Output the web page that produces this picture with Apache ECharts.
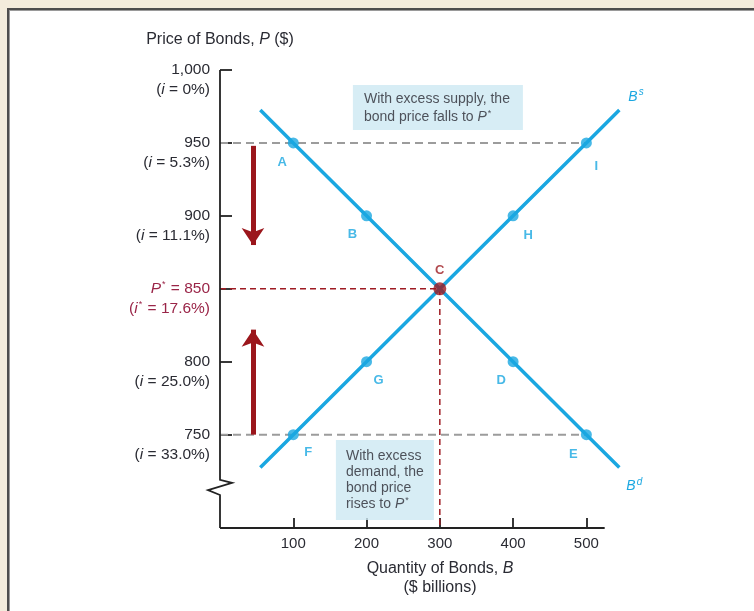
<!DOCTYPE html>
<html>
<head>
<meta charset="utf-8">
<script src="https://cdn.jsdelivr.net/npm/echarts@6/dist/echarts.min.js"></script>
<style>
  html, body { margin:0; padding:0; width:754px; height:611px; background:#f3ecdc; overflow:hidden; }
  #frame { position:absolute; left:7px; top:8px; width:760px; height:620px; background:#ffffff;
           border-left:2px solid #4d4d4d; border-top:2px solid #4d4d4d; box-shadow: inset 1px 1px 0 #9a9a9a; }
  #chart { position:absolute; left:0; top:0; width:754px; height:611px; }
</style>
</head>
<body>
<div id="frame"></div>
<div id="chart"></div>
<script>
// ---------- data ----------
const quantities    = [100, 200, 300, 400, 500];
const demandPrices  = [950, 900, 850, 800, 750];
const supplyPrices  = [750, 800, 850, 900, 950];
const demandNames   = ['A', 'B', 'C', 'D', 'E'];
const supplyNames   = ['F', 'G', 'C', 'H', 'I'];
const demandCurve   = [[55, 972.5], [100, 950], [200, 900], [300, 850], [400, 800], [500, 750], [545, 727.5]];
const supplyCurve   = [[55, 727.5], [100, 750], [200, 800], [300, 850], [400, 900], [500, 950], [545, 972.5]];
const equilibrium   = [300, 850];
const yTicks        = [750, 800, 850, 900, 950, 1000];
const yTickLabels   = ['750', '800', '850', '900', '950', '1,000'];
const yTickRates    = ['33.0%', '25.0%', '17.6%', '11.1%', '5.3%', '0%'];
const xTicks        = [100, 200, 300, 400, 500];
const excessSupplyLine = [[0, 950], [500, 950]];
const excessDemandLine = [[0, 750], [500, 750]];
const equilibriumGuide = [[0, 850], [300, 850], [300, 686]];
const arrowDown     = [[45, 948], [45, 880]];
const arrowUp       = [[45, 750], [45, 822]];
const yAxisPath     = [[0, 1000], [0, 719], [16.4, 717], [-16.4, 712], [0, 708.6], [0, 686]];
const xAxisPath     = [[0, 686], [525, 686]];
const boxSupplyAnchor = [181.4, 989.7];
const boxDemandAnchor = [158.2, 746.4];

// ---------- styles ----------
const BLUE = '#1aa7e1';
const RED = '#9e1b22';
const TXT = '#2a2b33';
const PRED = '#9a2548';
const FONT = "'Liberation Sans', Arial, sans-serif";
const YF = 15.5, YLH = 20;

const demandOffsets = [[-11, 19], [-14, 19], [0, -17], [-12, 19], [-13, 20]];
const supplyOffsets = [[15, 18], [12, 19], [0, -17], [15, 20], [10, 23]];

function pointData(prices, names, offsets) {
  return quantities.map((q, i) => ({
    value: [q, prices[i]],
    name: names[i],
    label: { offset: offsets[i] }
  })).filter((d, i) => quantities[i] !== equilibrium[0]);
}

const richY = {
  s:  { fontSize: YF, lineHeight: YLH, fontFamily: FONT },
  n:  { fontSize: YF, lineHeight: YLH, color: TXT, fontFamily: FONT },
  ni: { fontSize: YF, lineHeight: YLH, color: TXT, fontStyle: 'italic', fontFamily: FONT },
  r:  { fontSize: YF, lineHeight: YLH, color: PRED, fontFamily: FONT },
  ri: { fontSize: YF, lineHeight: YLH, color: PRED, fontStyle: 'italic', fontFamily: FONT },
  rs: { fontSize: 9, lineHeight: YLH, color: PRED, fontFamily: FONT, padding: [0, 1, 9, 1] }
};

const chart = echarts.init(document.getElementById('chart'), null, { renderer: 'canvas' });

const option = {
  animation: false,
  grid: { left: 220, right: 131, top: 70, bottom: 83 },
  xAxis: {
    type: 'value', min: 0, max: 550,
    axisLine: { show: false },
    axisTick: { show: true, inside: true, length: 10, customValues: xTicks, lineStyle: { color: '#222', width: 1.8 } },
    axisLabel: {
      customValues: xTicks, margin: 8, fontSize: 15, fontFamily: FONT,
      color: (v) => (v === equilibrium[0] ? '#b0303a' : TXT)
    },
    splitLine: { show: false },
    name: 'Quantity of Bonds, {i|B}\n($ billions)',
    nameLocation: 'middle', nameGap: 31, nameMoveOverlap: false,
    nameTextStyle: {
      color: TXT, fontSize: 16, fontFamily: FONT, lineHeight: 19, padding: [0, 0, 0, 37],
      rich: { i: { fontStyle: 'italic', fontSize: 16, color: TXT, fontFamily: FONT, lineHeight: 19 } }
    }
  },
  yAxis: {
    type: 'value', min: 686, max: 1000,
    axisLine: { show: false },
    axisTick: { show: true, inside: true, length: 12, customValues: yTicks, lineStyle: { color: '#222', width: 1.8 } },
    axisLabel: {
      customValues: yTicks, margin: 10, align: 'right',
      formatter: (v) => {
        const i = yTicks.indexOf(v);
        if (v === equilibrium[1]) {
          return '{s| }\n{ri|P}{rs|*}{r| = ' + yTickLabels[i] + '}\n{r|(}{ri|i}{rs|*}{r| = ' + yTickRates[i] + ')}';
        }
        return '{s| }\n{n|' + yTickLabels[i] + '}\n{n|(}{ni|i}{n| = ' + yTickRates[i] + ')}';
      },
      rich: richY
    },
    splitLine: { show: false },
    name: 'Price of Bonds, {i|P} ($)',
    nameLocation: 'end', nameGap: 22, nameMoveOverlap: false,
    nameTextStyle: {
      color: TXT, fontSize: 16, fontFamily: FONT, align: 'center', verticalAlign: 'bottom',
      rich: { i: { fontStyle: 'italic', fontSize: 16, color: TXT, fontFamily: FONT } }
    }
  },
  series: [
    { // axis lines (y axis with break)
      type: 'custom', silent: true, z: 3, clip: false,
      renderItem: (params, api) => ({
        type: 'group',
        children: [
          { type: 'polyline', shape: { points: yAxisPath.map(p => api.coord(p)) },
            style: { stroke: '#222', lineWidth: 1.8, fill: null } },
          { type: 'polyline', shape: { points: xAxisPath.map(p => api.coord(p)) },
            style: { stroke: '#222', lineWidth: 1.8, fill: null } }
        ]
      }),
      data: [0]
    },
    { type: 'line', data: excessSupplyLine, showSymbol: false, silent: true, z: 2,
      lineStyle: { color: '#9c9c9c', width: 2, type: [8, 5] } },
    { type: 'line', data: excessDemandLine, showSymbol: false, silent: true, z: 2,
      lineStyle: { color: '#9c9c9c', width: 2, type: [8, 5] } },
    { type: 'line', data: equilibriumGuide, showSymbol: false, silent: true, z: 2,
      lineStyle: { color: RED, width: 1.5, type: [6, 4] },
      markLine: {
        silent: true, symbol: ['none', 'arrow'], symbolSize: 17, label: { show: false },
        lineStyle: { color: '#9b161c', width: 5, type: 'solid' },
        data: [
          [{ coord: arrowDown[0] }, { coord: arrowDown[1] }],
          [{ coord: arrowUp[0] }, { coord: arrowUp[1] }]
        ]
      } },
    { type: 'line', data: demandCurve, showSymbol: false, silent: true, z: 4, clip: false,
      lineStyle: { color: BLUE, width: 3.5 },
      endLabel: { show: true, formatter: '{b|B}{s|d}', offset: [-1, 19],
        rich: { b: { color: BLUE, fontStyle: 'italic', fontSize: 14, fontFamily: FONT },
                s: { color: BLUE, fontStyle: 'italic', fontSize: 10, fontFamily: FONT, padding: [0, 0, 9, 1] } } } },
    { type: 'line', data: supplyCurve, showSymbol: false, silent: true, z: 4, clip: false,
      lineStyle: { color: BLUE, width: 3.5 },
      endLabel: { show: true, formatter: '{b|B}{s|s}', offset: [1, -13],
        rich: { b: { color: BLUE, fontStyle: 'italic', fontSize: 14, fontFamily: FONT },
                s: { color: BLUE, fontStyle: 'italic', fontSize: 10, fontFamily: FONT, padding: [0, 0, 9, 1] } } } },
    { type: 'scatter', z: 5, symbolSize: 11, itemStyle: { color: BLUE },
      data: pointData(demandPrices, demandNames, demandOffsets).concat(pointData(supplyPrices, supplyNames, supplyOffsets)),
      label: { show: true, position: 'inside', formatter: '{b}', color: BLUE, fontWeight: 'bold',
               fontSize: 13, fontFamily: FONT } },
    { type: 'scatter', z: 6, symbolSize: 13, itemStyle: { color: RED },
      data: [{ value: equilibrium, name: 'C' }],
      label: { show: true, position: 'inside', offset: [0, -18], formatter: '{b}', color: RED,
               fontWeight: 'bold', fontSize: 13, fontFamily: FONT } },
    { type: 'scatter', z: 7, symbolSize: 0, silent: true,
      data: [boxSupplyAnchor],
      label: { show: true, position: 'inside', align: 'left', verticalAlign: 'top',
               backgroundColor: '#cde9f2', padding: [5, 6, 4, 11], width: 153, lineHeight: 18,
               color: TXT, fontSize: 14, fontFamily: FONT,
               formatter: 'With excess supply, the\nbond price falls to {i|P}{s|*}',
               rich: { i: { fontStyle: 'italic', color: TXT, fontSize: 14, fontFamily: FONT, lineHeight: 18 },
                       s: { color: TXT, fontSize: 9, fontFamily: FONT, padding: [0, 0, 7, 1] } } } },
    { type: 'scatter', z: 7, symbolSize: 0, silent: true,
      data: [boxDemandAnchor],
      label: { show: true, position: 'inside', align: 'left', verticalAlign: 'top',
               backgroundColor: '#cde9f2', padding: [8, 2, 8, 10], width: 86, lineHeight: 16,
               color: TXT, fontSize: 14, fontFamily: FONT,
               formatter: 'With excess\ndemand, the\nbond price\nrises to {i|P}{s|*}',
               rich: { i: { fontStyle: 'italic', color: TXT, fontSize: 14, fontFamily: FONT, lineHeight: 16 },
                       s: { color: TXT, fontSize: 9, fontFamily: FONT, padding: [0, 0, 7, 1] } } } }
  ]
};
chart.setOption(option);
</script>
</body>
</html>
